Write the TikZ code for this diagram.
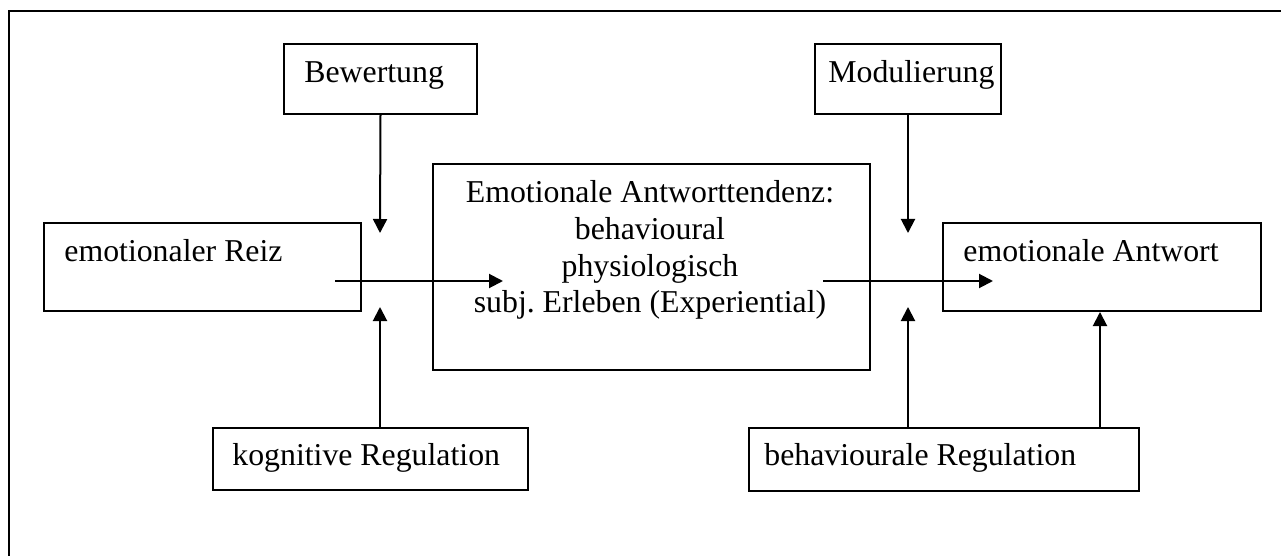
\documentclass[tikz,border=0pt]{standalone}
\usepackage{fontspec}
\setmainfont{Liberation Serif}
\usetikzlibrary{arrows.meta,calc}
\frenchspacing
\tikzset{
    box/.style={draw, line width=1pt, inner sep=0pt, anchor=north west},
    txt/.style={inner sep=0pt, anchor=base west, font=\fontsize{15.9}{18.4}\selectfont},
    arr/.style={line width=1pt, -{Triangle[length=7pt,width=7pt]}},
}

\begin{document}
\begin{tikzpicture}[x=0.5pt,y=-0.5pt]
        \useasboundingbox (0,0) rectangle (1281,556);
        % Frame (top and left edge only)
        \draw[line width=1.3pt] (9,556) -- (9,11) -- (1281,11);

        % Boxes
        \node[box, minimum width=96.5pt, minimum height=35pt] (bew) at (283,43) {};
        \node[box, minimum width=93pt, minimum height=35pt] (mod) at (814,43) {};
        \node[box, minimum width=158.5pt, minimum height=44pt] (reiz) at (43,222) {};
        \node[box, minimum width=218.5pt, minimum height=103pt] (tend) at (432,163) {};
        \node[box, minimum width=159pt, minimum height=44pt] (antw) at (942,222) {};
        \node[box, minimum width=157.5pt, minimum height=31pt] (kog) at (212,427) {};
        \node[box, minimum width=195pt, minimum height=31.5pt] (beh) at (748,427) {};

        % Texts
        \node[txt] (bewtxt) at (304,83) {Bewertung};
        \node[txt] (modtxt) at (828,83) {Modulierung};
        \node[txt] (reiztxt) at (64,262) {emotionaler Reiz};
        \node[txt] (antwtxt) at (963,262) {emotionale Antwort};
        \node[txt] (kogtxt) at (232,465) {kognitive Regulation};
        \node[txt] (behtxt) at (764,465) {behaviourale Regulation};
        \node[txt, anchor=base, align=center] (tendtxt) at (650,313)
            {Emotionale Antworttendenz:\\behavioural\\physiologisch\\subj. Erleben (Experiential)};

        % Free ends of the arrows
        \coordinate (inA) at (335,281);
        \coordinate (inB) at (503,281);
        \coordinate (outA) at (823,281);
        \coordinate (outB) at (993,281);
        \coordinate (bewend) at (380,233);
        \coordinate (kogend) at (380,307);
        \coordinate (modend) at (908,233);
        \coordinate (behend) at (908,307);
        \coordinate (behright) at (1100,427);

        % Arrows
        \draw[arr] (inA) -- (inB);
        \draw[arr] (outA) -- (outB);
        \draw[arr] (bew.south) -- (bewend);
        \draw[arr] (kog.north -| bewend) -- (kogend);
        \draw[arr] (mod.south) -- (modend);
        \draw[arr] (beh.north -| behend) -- (behend);
        \draw[arr] (behright) -- (antw.south -| behright);
\end{tikzpicture}
\end{document}
